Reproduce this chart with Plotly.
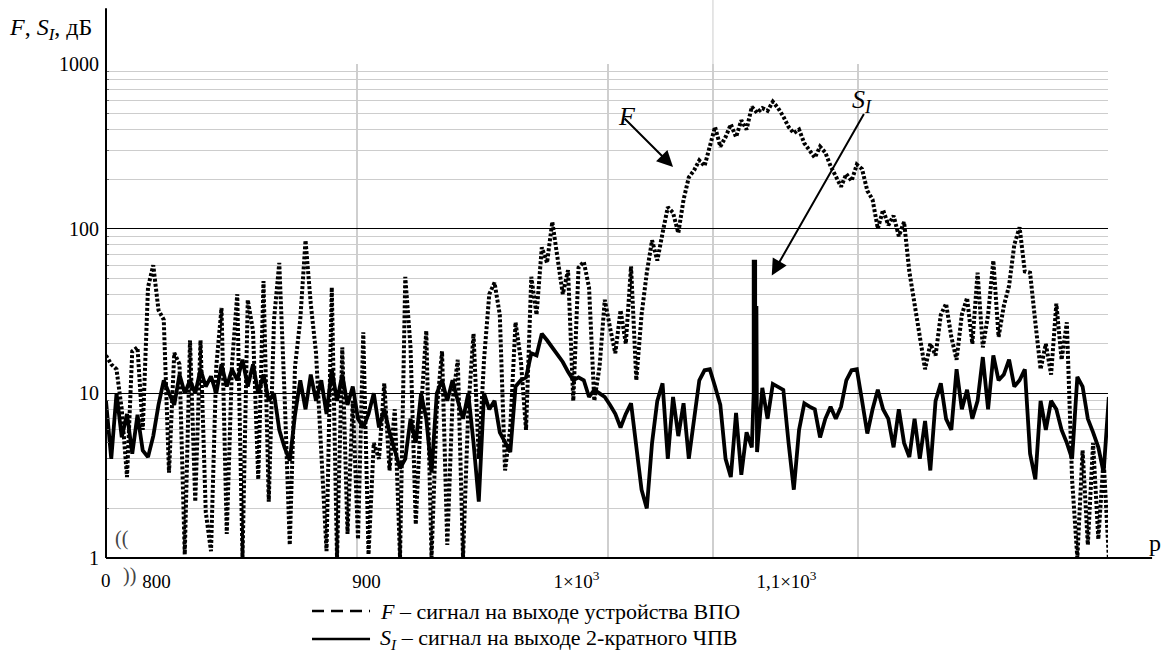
import numpy as np
import plotly.graph_objects as go

# regular sampling of the p axis
p = np.arange(776, 1254, 2.5)  # 192 samples

F_vals = [
    17, 15, 14, 8, 3.1, 18, 19, 6, 44, 60,
    32, 28, 3.3, 17.6, 15, 1.05, 21, 2.2, 21, 1.9,
    1.1, 14.5, 33, 1.4, 15, 40, 1.0, 37, 24, 3,
    48, 2.2, 28, 62, 10, 1.2, 14.5, 28, 85, 35,
    17.6, 4.7, 1.1, 44, 1.0, 19, 1.4, 9, 1.3,
    23.5, 1.05, 5, 4, 11.5, 3.4, 8, 1.0, 51, 19,
    1.6, 8, 24, 1.0, 8, 18, 1.2, 9, 16, 1.0,
    8, 23, 4, 16, 40, 47, 30, 3.4, 6.2, 27,
    16, 6, 51, 30, 77, 62, 110, 66, 40, 56,
    9, 58, 63, 44, 9, 14.5, 37,
    25, 17.5, 32, 20, 59, 12, 30, 54, 85, 64,
    94, 135, 125, 94, 150, 205, 226, 260, 240, 315,
    415, 315, 360, 430, 360, 455, 400, 550, 505, 540,
    520, 590, 540, 480, 415, 380, 400, 330, 300, 270,
    315, 290, 240, 205, 180, 215, 195, 245,
    230, 170, 150, 100, 130, 105, 120, 90, 110, 55,
    35, 22, 14, 20, 17, 30, 35, 22, 16, 30,
    38, 20, 54, 19, 30, 64, 22, 34, 45, 80,
    102, 55, 54, 27, 14, 20, 13, 35, 16, 27,
    3, 1.0, 4.5, 1.2, 5, 1.3, 4, 1.0,
]

S_vals = [
    9, 4, 10, 5.4, 7.5, 4.3, 7.4, 4.5, 4.1, 5.5,
    8.5, 12, 10, 8.5, 13, 10, 12, 10, 14, 11,
    12.7, 10, 15, 11, 14, 12, 16, 11, 15, 10,
    13, 9, 10, 6, 4.7, 3.9, 7.4, 12, 8, 13,
    9, 12, 7.5, 14, 9, 13, 8.5, 11, 7,
    6.2, 7.5, 10, 6.2, 8, 5.8, 4.4, 3.5, 4, 7,
    5, 10, 7, 3.3, 10, 12, 9, 12, 9, 7,
    10, 5, 2.2, 10, 8, 9, 5.8, 5, 4.4, 11,
    12, 12.5, 17.5, 17, 23, 21, 19, 17, 15.5, 13.5,
    12, 12.5, 12, 9.5, 10.5, 10, 9.5,
    8.5, 7.5, 6.2, 7.5, 8.7, 4.7, 2.6, 2.0, 5, 9,
    11.5, 4, 9.5, 5.5, 8.7, 4, 6.9, 12, 13.8, 14,
    11, 8.5, 4, 3.1, 7.6, 3.2, 5.8, 4.7, 4.4, 10.8,
    7, 11.4, 11, 10.5, 5, 2.6, 6, 8.7, 8.3, 8,
    5.4, 7, 8.3, 7, 8.3, 12, 13.8, 14,
    9, 5.7, 8, 10.5, 8, 7, 4.7, 8, 5, 4.1,
    7, 4, 6.8, 3.4, 9, 11.5, 7, 6, 14, 8,
    10.5, 7, 9, 16.6, 8, 17, 12, 13, 16, 11,
    12, 14, 4.3, 3.0, 9, 6, 9, 8, 6, 5,
    4, 12.6, 11, 7, 5.8, 4.7, 3.3, 9.5,
]

# narrow S_I spike
spike_p = [1084.4, 1084.4, 1085.1, 1085.1, 1085.7, 1085.7]
spike_v = [10, 63, 63, 33, 33, 8]
spike_after = 124

y_tickvals = [1, 10, 100, 1000]
y_ticktext = ["1", "10", "100", "1000"]
x_tickvals = [800, 900, 1000, 1100]
x_ticktext = ["800", "900", "1×10<sup>3</sup>", "1,1×10<sup>3</sup>"]
x_grid = [895.5, 1015, 1065, 1134, 1253]

S_x = list(p[:spike_after]) + spike_p + list(p[spike_after:])
S_y = S_vals[:spike_after] + spike_v + S_vals[spike_after:]

FONT = "Liberation Serif"

fig = go.Figure()
fig.add_trace(go.Scatter(x=p, y=F_vals, mode="lines",
                         line=dict(color="black", width=4, dash="3px,2px"),
                         showlegend=False))
fig.add_trace(go.Scatter(x=S_x, y=S_y, mode="lines",
                         line=dict(color="black", width=3.8),
                         showlegend=False))

minor_y = [m * d for d in (1, 10, 100) for m in range(2, 10)]

fig.update_layout(
    width=1170, height=655,
    margin=dict(l=106, r=62, t=64, b=97),
    paper_bgcolor="white", plot_bgcolor="white",
    font=dict(family=FONT, color="black", size=18),
    showlegend=False,
    xaxis=dict(range=[776, 1253.1], tickmode="array", tickvals=x_tickvals,
               ticktext=x_ticktext, showgrid=False, zeroline=False,
               showline=False, ticks="", ticklabelstandoff=10,
               tickfont=dict(family=FONT, size=19),
               minor=dict(tickmode="array", tickvals=x_grid, showgrid=True,
                          gridcolor="#cfcfcf", gridwidth=1.5, ticks="")),
    yaxis=dict(type="log", range=[0, 3], tickmode="array", tickvals=y_tickvals,
               ticktext=y_ticktext, showgrid=True, gridcolor="black",
               gridwidth=1.3, zeroline=False, showline=False, ticks="",
               ticklabelstandoff=6, tickfont=dict(family=FONT, size=20),
               minor=dict(tickmode="array", tickvals=minor_y, showgrid=True,
                          gridcolor="#cdcdcd", gridwidth=1.4, ticks="inside",
                          ticklen=3, tickcolor="#666")),
)

shapes = [
    dict(type="line", xref="paper", yref="paper", x0=0, x1=0, y0=0, y1=1.113,
         line=dict(color="black", width=2)),
    dict(type="line", xref="paper", yref="paper", x0=0, x1=1.044, y0=0, y1=0,
         line=dict(color="black", width=2)),
    dict(type="line", xref="x", yref="paper", x0=1065, x1=1065, y0=1, y1=1.13,
         line=dict(color="#d5d5d5", width=1.2)),
    # legend samples
    dict(type="line", xref="paper", yref="paper", x0=0.2056, x1=0.2635,
         y0=-0.1073, y1=-0.1073, line=dict(color="black", width=2.5, dash="12px,7px")),
    dict(type="line", xref="paper", yref="paper", x0=0.2056, x1=0.2635,
         y0=-0.164, y1=-0.164, line=dict(color="black", width=2.5)),
]
fig.update_layout(shapes=shapes)

ann = [
    dict(x=-0.099, y=1.07, xref="paper", yref="paper", xanchor="left", yanchor="middle",
         text="<i>F</i>, <i>S<sub>I</sub></i>, дБ", showarrow=False, font=dict(size=24)),
    dict(x=0, y=-0.045, xref="paper", yref="paper", xanchor="center", yanchor="middle",
         text="0", showarrow=False, font=dict(size=19)),
    dict(x=0.016, y=0.04, xref="paper", yref="paper", xanchor="center", yanchor="middle",
         text="((", showarrow=False, font=dict(size=20, color="#444")),
    dict(x=0.023, y=-0.035, xref="paper", yref="paper", xanchor="center", yanchor="middle",
         text="))", showarrow=False, font=dict(size=20, color="#444")),
    dict(x=1.047, y=0.03, xref="paper", yref="paper", xanchor="center", yanchor="middle",
         text="p", showarrow=False, font=dict(size=24)),
    dict(x=0.2715, y=-0.1073, xref="paper", yref="paper", xanchor="left", yanchor="middle",
         text="<i>F</i> – сигнал на выходе устройства ВПО", showarrow=False,
         font=dict(size=22)),
    dict(x=0.2715, y=-0.164, xref="paper", yref="paper", xanchor="left", yanchor="middle",
         text="<i>S<sub>I</sub></i> – сигнал на выходе 2-кратного ЧПВ", showarrow=False,
         font=dict(size=22)),
    # series labels with arrows
    dict(x=1046, y=np.log10(237), xref="x", yref="y", text="", showarrow=True,
         ax=-50, ay=-50, arrowhead=2, arrowsize=1.6, arrowwidth=2, arrowcolor="black"),
    dict(x=1093, y=np.log10(52), xref="x", yref="y", text="", showarrow=True,
         ax=93, ay=-163, arrowhead=2, arrowsize=1.6, arrowwidth=2, arrowcolor="black"),
    dict(x=(627 - 106) / 1002, y=(558 - 100) / 494, xref="paper", yref="paper",
         text="<i>F</i>", showarrow=False, font=dict(size=26)),
    dict(x=(874 - 106) / 1002, y=(558 - 83) / 494, xref="paper", yref="paper",
         text="<i>S<sub>I</sub></i>", showarrow=False, font=dict(size=26)),
]
fig.update_layout(annotations=ann)

fig.write_html("out.html")
